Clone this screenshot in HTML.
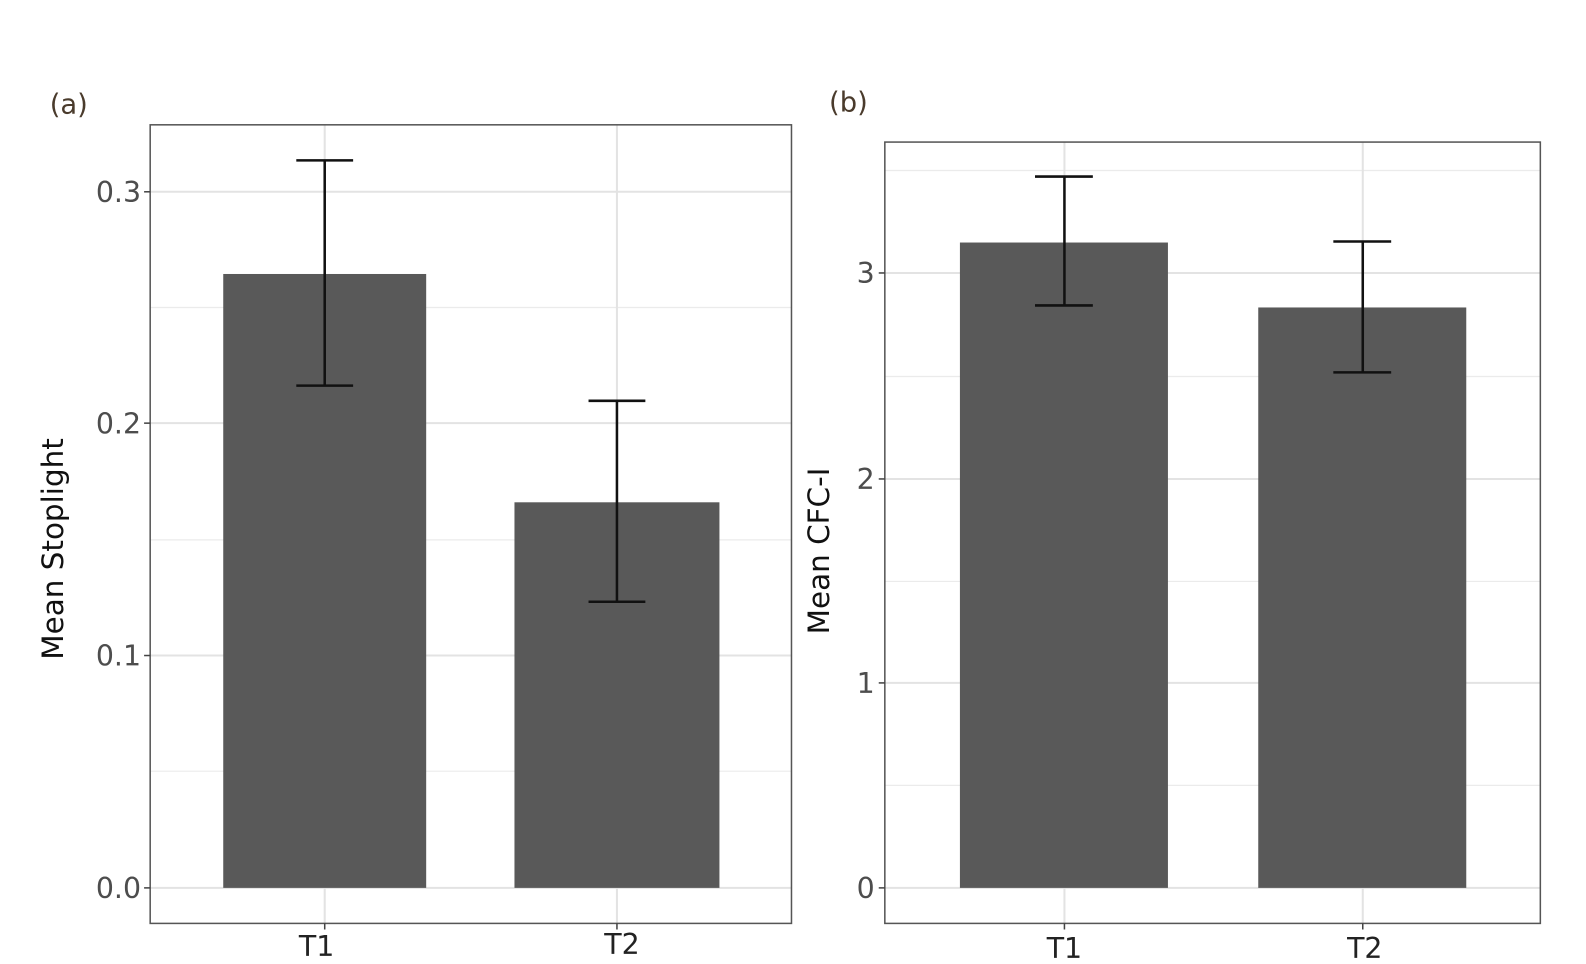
<!DOCTYPE html>
<html><head><meta charset="utf-8"><style>
html,body{margin:0;padding:0;background:#fff;}
svg{display:block;}
text{font-family:"DejaVu Sans","Liberation Sans",sans-serif;}
</style></head><body>
<svg width="1586" height="964" viewBox="0 0 1563 950" xmlns="http://www.w3.org/2000/svg">
<rect width="1563" height="950" fill="#fff"/>
<!-- Panel a -->
<text x="49" y="112" font-size="27" fill="#4a3b2c">(a)</text>
<g stroke="#ebebeb" stroke-width="1.2">
<line x1="148" y1="303" x2="780" y2="303"/><line x1="148" y1="532" x2="780" y2="532"/><line x1="148" y1="760" x2="780" y2="760"/>
</g>
<g stroke="#e3e3e3" stroke-width="2">
<line x1="148" y1="189" x2="780" y2="189"/><line x1="148" y1="417" x2="780" y2="417"/><line x1="148" y1="646" x2="780" y2="646"/><line x1="148" y1="875" x2="780" y2="875"/>
<line x1="320" y1="123" x2="320" y2="910"/><line x1="608" y1="123" x2="608" y2="910"/>
</g>
<rect x="220" y="270" width="200" height="605" fill="#595959"/>
<rect x="507" y="495" width="202" height="380" fill="#595959"/>
<g stroke="#111" stroke-width="2.5">
<line x1="320" y1="158" x2="320" y2="380"/><line x1="292" y1="158" x2="348" y2="158"/><line x1="292" y1="380" x2="348" y2="380"/>
<line x1="608" y1="395" x2="608" y2="593"/><line x1="580" y1="395" x2="636" y2="395"/><line x1="580" y1="593" x2="636" y2="593"/>
</g>
<rect x="148" y="123" width="632" height="787" fill="none" stroke="#555" stroke-width="1.5"/>
<g stroke="#444" stroke-width="1.5">
<line x1="142" y1="189" x2="148" y2="189"/><line x1="142" y1="417" x2="148" y2="417"/><line x1="142" y1="646" x2="148" y2="646"/><line x1="142" y1="875" x2="148" y2="875"/>
<line x1="320" y1="910" x2="320" y2="916"/><line x1="608" y1="910" x2="608" y2="916"/>
</g>
<g font-size="28" fill="#4d4d4d" text-anchor="end">
<text x="139" y="199">0.3</text><text x="139" y="427">0.2</text><text x="139" y="656">0.1</text><text x="139" y="885">0.0</text>
</g>
<g font-size="28" fill="#222" text-anchor="middle">
<text x="312" y="942">T1</text><text x="613" y="940">T2</text>
</g>
<text transform="translate(62,541) rotate(-90)" font-size="29" fill="#111" text-anchor="middle">Mean Stoplight</text>
<!-- Panel b -->
<text x="817" y="110" font-size="27" fill="#4a3b2c">(b)</text>
<g stroke="#ebebeb" stroke-width="1.2">
<line x1="872" y1="168" x2="1518" y2="168"/><line x1="872" y1="371" x2="1518" y2="371"/><line x1="872" y1="573" x2="1518" y2="573"/><line x1="872" y1="774" x2="1518" y2="774"/>
</g>
<g stroke="#e3e3e3" stroke-width="2">
<line x1="872" y1="269" x2="1518" y2="269"/><line x1="872" y1="472" x2="1518" y2="472"/><line x1="872" y1="673" x2="1518" y2="673"/><line x1="872" y1="875" x2="1518" y2="875"/>
<line x1="1049" y1="140" x2="1049" y2="910"/><line x1="1343" y1="140" x2="1343" y2="910"/>
</g>
<rect x="946" y="239" width="205" height="636" fill="#595959"/>
<rect x="1240" y="303" width="205" height="572" fill="#595959"/>
<g stroke="#111" stroke-width="2.5">
<line x1="1049" y1="174" x2="1049" y2="301"/><line x1="1020" y1="174" x2="1077" y2="174"/><line x1="1020" y1="301" x2="1077" y2="301"/>
<line x1="1343" y1="238" x2="1343" y2="367"/><line x1="1314" y1="238" x2="1371" y2="238"/><line x1="1314" y1="367" x2="1371" y2="367"/>
</g>
<rect x="872" y="140" width="646" height="770" fill="none" stroke="#555" stroke-width="1.5"/>
<g stroke="#444" stroke-width="1.5">
<line x1="866" y1="269" x2="872" y2="269"/><line x1="866" y1="472" x2="872" y2="472"/><line x1="866" y1="673" x2="872" y2="673"/><line x1="866" y1="875" x2="872" y2="875"/>
<line x1="1049" y1="910" x2="1049" y2="916"/><line x1="1343" y1="910" x2="1343" y2="916"/>
</g>
<g font-size="28" fill="#4d4d4d" text-anchor="end">
<text x="862" y="279">3</text><text x="862" y="482">2</text><text x="862" y="683">1</text><text x="862" y="885">0</text>
</g>
<g font-size="28" fill="#222" text-anchor="middle">
<text x="1049" y="944">T1</text><text x="1345" y="944">T2</text>
</g>
<text transform="translate(817,543) rotate(-90)" font-size="29" fill="#111" text-anchor="middle">Mean CFC-I</text>
</svg>
</body></html>
